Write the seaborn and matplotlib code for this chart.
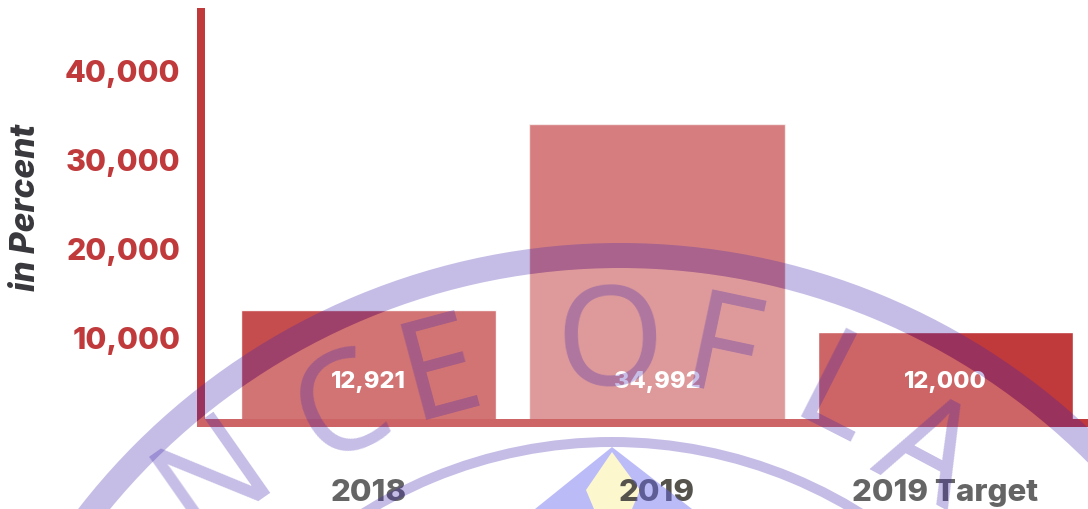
import matplotlib
matplotlib.use('Agg')
import matplotlib.pyplot as plt
from matplotlib.patches import Circle, Polygon, Wedge
import pandas as pd
import seaborn as sns

# chart values
categories = ['2018', '2019', '2019 Target']
bar_heights = [13130, 34030, 10660]  # as drawn against the axis
bar_labels = ['12,921', '34,992', '12,000']
bar_alphas = [0.9, 0.65, 1.0]
y_ticks = [10000, 20000, 30000, 40000]
y_tick_labels = ['10,000', '20,000', '30,000', '40,000']
x_label_colors = ['#3a3a3a', '#26231a', '#3a3a3a']

RED = '#c0393b'
FONT = 'Inter'
SEAL = '#4126ac'
W, H = 1088, 509

sns.set_theme(style='white')
plt.rcParams['font.family'] = [FONT, 'DejaVu Sans']

df = pd.DataFrame({'category': categories, 'value': bar_heights})

fig = plt.figure(figsize=(W / 100, H / 100), dpi=100)

# yellow drop of the seal sits behind the chart
under = fig.add_axes([0, 0, 1, 1], zorder=0)
under.set_xlim(0, W)
under.set_ylim(H, 0)
under.axis('off')
under.add_patch(Polygon([(612, 452), (640, 490), (632, 509), (594, 509), (586, 490)], color='#fdf5c0', lw=0))

ax = fig.add_axes([201 / W, 1 - 427 / H, (W - 201) / W, 419 / H], zorder=1)
ax.patch.set_visible(False)

sns.barplot(data=df, x='category', y='value', color=RED, saturation=1, width=0.885, ax=ax)
for patch, a in zip(ax.patches, bar_alphas):
    patch.set_alpha(a)

# spines first, set_position resets the ticks
sns.despine(ax=ax)
for side in ['left', 'bottom']:
    ax.spines[side].set_color(RED)
    ax.spines[side].set_linewidth(5.76)
    ax.spines[side].set_zorder(5)
    ax.spines[side].set_capstyle('butt')
ax.spines['bottom'].set_position(('outward', -2.88))

ax.set_xlim(-0.58, 2.494)
ax.set_ylim(0, 47080)
ax.set_xlabel('')
ax.set_ylabel('in Percent', fontsize=24, fontweight='heavy', style='italic', color='#38383c')
ax.yaxis.set_label_coords(42 / W, 1 - 207 / H, transform=fig.transFigure)

ax.set_yticks(y_ticks)
ax.set_yticklabels(y_tick_labels, fontsize=21.8, fontweight='heavy', color=RED)
ax.set_xticks(range(len(categories)))
ax.set_xticklabels(categories, fontsize=22.5, fontweight='heavy')
for lab, c in zip(ax.get_xticklabels(), x_label_colors):
    lab.set_color(c)
ax.tick_params(axis='y', length=0, pad=15)
ax.tick_params(axis='x', length=0, pad=40)

for i, lab in enumerate(bar_labels):
    ax.text(i, 5050, lab, ha='center', va='center', color='white', fontsize=17, fontweight='heavy')

# watermark seal drawn over the chart, in pixel coordinates
over = fig.add_axes([0, 0, 1, 1], zorder=10)
over.set_xlim(0, W)
over.set_ylim(H, 0)
over.axis('off')

over.add_patch(Circle((620, 928), 660, color='white', alpha=0.22, lw=0))
over.add_patch(Wedge((620, 928), 685, 0, 360, width=25, color=SEAL, alpha=0.3, lw=0))
over.add_patch(Wedge((612, 911), 474, 0, 360, width=10, color=SEAL, alpha=0.3, lw=0))
over.add_patch(Polygon([(612, 447), (535, 509), (594, 509), (586, 490), (612, 452)], color='#6a6af0', alpha=0.45, lw=0))
over.add_patch(Polygon([(612, 447), (692, 509), (632, 509), (640, 490), (612, 452)], color='#6a6af0', alpha=0.45, lw=0))

letters = [('N', 215, 478, 35), ('C', 343, 412, 25), ('E', 440, 375, 15), ('O', 610, 349, 2),
           ('F', 720, 358, -12), ('L', 835, 400, -27), ('A', 925, 458, -28)]
for ch, x, y, rot in letters:
    over.text(x, y, ch, fontsize=100, family='Noto Sans', fontweight='medium', color=SEAL, alpha=0.3,
              ha='center', va='center', rotation=rot, rotation_mode='anchor', clip_on=True)

fig.savefig('out.png', dpi=100)
